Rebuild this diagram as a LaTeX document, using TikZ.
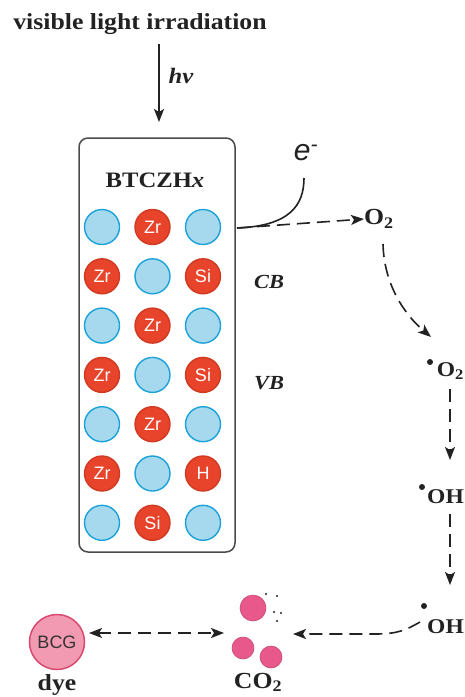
\documentclass[tikz,border=0pt]{standalone}
\usepackage{fontspec}
\setmainfont{Liberation Serif}[FakeStretch=1.12]
\newfontfamily\sansf{Liberation Sans}
\usetikzlibrary{arrows.meta}
\definecolor{bfill}{HTML}{A6D8EE}
\definecolor{bdraw}{HTML}{1BA3D9}
\definecolor{rfill}{HTML}{E8432B}
\definecolor{rdraw}{HTML}{D03A22}
\definecolor{pfill}{HTML}{F29AB2}
\definecolor{pdraw}{HTML}{D94A70}
\definecolor{cfill}{HTML}{E8588A}
\definecolor{boxc}{HTML}{4A4A4A}
\definecolor{ink}{HTML}{222222}
\begin{document}
\begin{tikzpicture}[x=1pt,y=-1pt,
  atomB/.style={circle,draw=bdraw,fill=bfill,line width=1.4pt,minimum size=35pt,inner sep=0pt},
  atomR/.style={circle,draw=rdraw,fill=rfill,line width=1.4pt,minimum size=35pt,inner sep=0pt,
    text=white,font=\sansf\fontsize{18}{18}\selectfont},
  lab/.style={font=\bfseries\fontsize{23}{23}\selectfont,inner sep=0pt,text=ink},
  slab/.style={font=\bfseries\fontsize{21}{21}\selectfont,inner sep=0pt,text=ink},
  ilab/.style={font=\bfseries\itshape\fontsize{20}{20}\selectfont,inner sep=0pt,text=ink},
  arr/.style={line width=1.6pt,draw=ink,-{Stealth[length=13pt,width=10pt,inset=3pt]}},
  darr/.style={line width=1.6pt,draw=ink,dash pattern=on 13pt off 7pt,-{Stealth[length=13pt,width=10pt,inset=3pt]}},
  ddarr/.style={line width=1.6pt,draw=ink,dash pattern=on 13pt off 7pt,{Stealth[length=13pt,width=10pt,inset=3pt]}-{Stealth[length=13pt,width=10pt,inset=3pt]}},
  rdot/.style={fill=ink}
]
\path[fill=white] (0,0) rectangle (465,697);
\useasboundingbox (0,0) rectangle (465,697);

% title and light arrow
\node[lab] (title) at (140,24) {visible light irradiation};
\coordinate (lt) at (159,44);
\coordinate (lb) at (159,122);
\draw[arr] (lt) -- (lb);
\node[ilab,font=\bfseries\itshape\fontsize{22}{22}\selectfont] (hv) at (181,76) {hv};

% box
\node[draw=boxc,line width=1.5pt,rounded corners=9pt,minimum width=156pt,minimum height=414pt,inner sep=0pt] (box) at (157,345) {};
\node[font=\bfseries\fontsize{22}{22}\selectfont,inner sep=0pt,text=ink] (bt) at (155,180) {BTCZH\textit{x}};

% atoms
\foreach \r/\c in {1/1,1/3,2/2,3/1,3/3,4/2,5/1,5/3,6/2,7/1,7/3}
  \node[atomB] (a\r\c) at ({102+(\c-1)*50.5},{227+(\r-1)*49.3}) {};
\foreach \r/\c/\t in {1/2/Zr,2/1/Zr,2/3/Si,3/2/Zr,4/1/Zr,4/3/Si,5/2/Zr,6/1/Zr,6/3/H,7/2/Si}
  \node[atomR] (a\r\c) at ({102+(\c-1)*50.5},{227+(\r-1)*49.3}) {\t};

\node[ilab] (cb) at (269,282) {CB};
\node[ilab] (vb) at (269,383) {VB};

% electron
\node[font=\sansf\itshape\fontsize{30}{30}\selectfont,inner sep=0pt,text=ink] (e) at (306,153) {e\textsuperscript{-}};
\coordinate (bx) at (237,228);
\draw[line width=1.6pt,draw=ink] (bx) .. controls (290,226) and (304,205) .. (304,178);

% O2 chain
\node[lab,anchor=west] (o2) at (364,219) {O\textsubscript{2}};
\draw[darr] (bx) -- (o2.west);
\node[slab,anchor=east] (so2) at (464,371) {O\textsubscript{2}};
\fill[rdot] (430,362) circle (3pt);
\coordinate (c1s) at (383,244);
\coordinate (c1e) at (431,337);
\draw[darr] (c1s) .. controls (384,285) and (405,315) .. (c1e);
\node[slab,anchor=east] (oh1) at (464,497) {OH};
\fill[rdot] (422,487) circle (3pt);
\coordinate (v1s) at (450,389);
\coordinate (v1e) at (450,460);
\draw[darr] (v1s) -- (v1e);
\node[slab,anchor=east] (oh2) at (464,627) {OH};
\fill[rdot] (424,606) circle (3pt);
\coordinate (v2s) at (450,514);
\coordinate (v2e) at (450,585);
\draw[darr] (v2s) -- (v2e);

% CO2
\node[circle,fill=cfill,draw=cfill!85!black,line width=0.6pt,minimum size=26pt,inner sep=0pt] (co1) at (253,608) {};
\node[circle,fill=cfill,draw=cfill!85!black,line width=0.6pt,minimum size=22pt,inner sep=0pt] (co2) at (243,648) {};
\node[circle,fill=cfill,draw=cfill!85!black,line width=0.6pt,minimum size=22pt,inner sep=0pt] (co3) at (271,657) {};
\foreach \p in {(266,594),(277,596),(274,612),(281,613),(277,621)}
  \fill[ink] \p circle (1.1pt);
\node[lab,anchor=base] (co2l) at (258,688) {CO\textsubscript{2}};
\coordinate (ohe) at (420,622);
\coordinate (coin) at (293,634);
\draw[darr] (ohe) .. controls (406,630) and (398,634) .. (375,634) -- (coin);

% dye
\node[circle,fill=pfill,draw=pdraw,line width=1.5pt,minimum size=55pt,inner sep=0pt,
  font=\sansf\fontsize{18}{18}\selectfont,text=black!80] (bcg) at (57,642) {BCG};
\node[lab,anchor=base] (dye) at (57,690) {dye};
\coordinate (dl) at (89,633);
\coordinate (dr) at (224,633);
\draw[ddarr] (dl) -- (dr);
\end{tikzpicture}
\end{document}
